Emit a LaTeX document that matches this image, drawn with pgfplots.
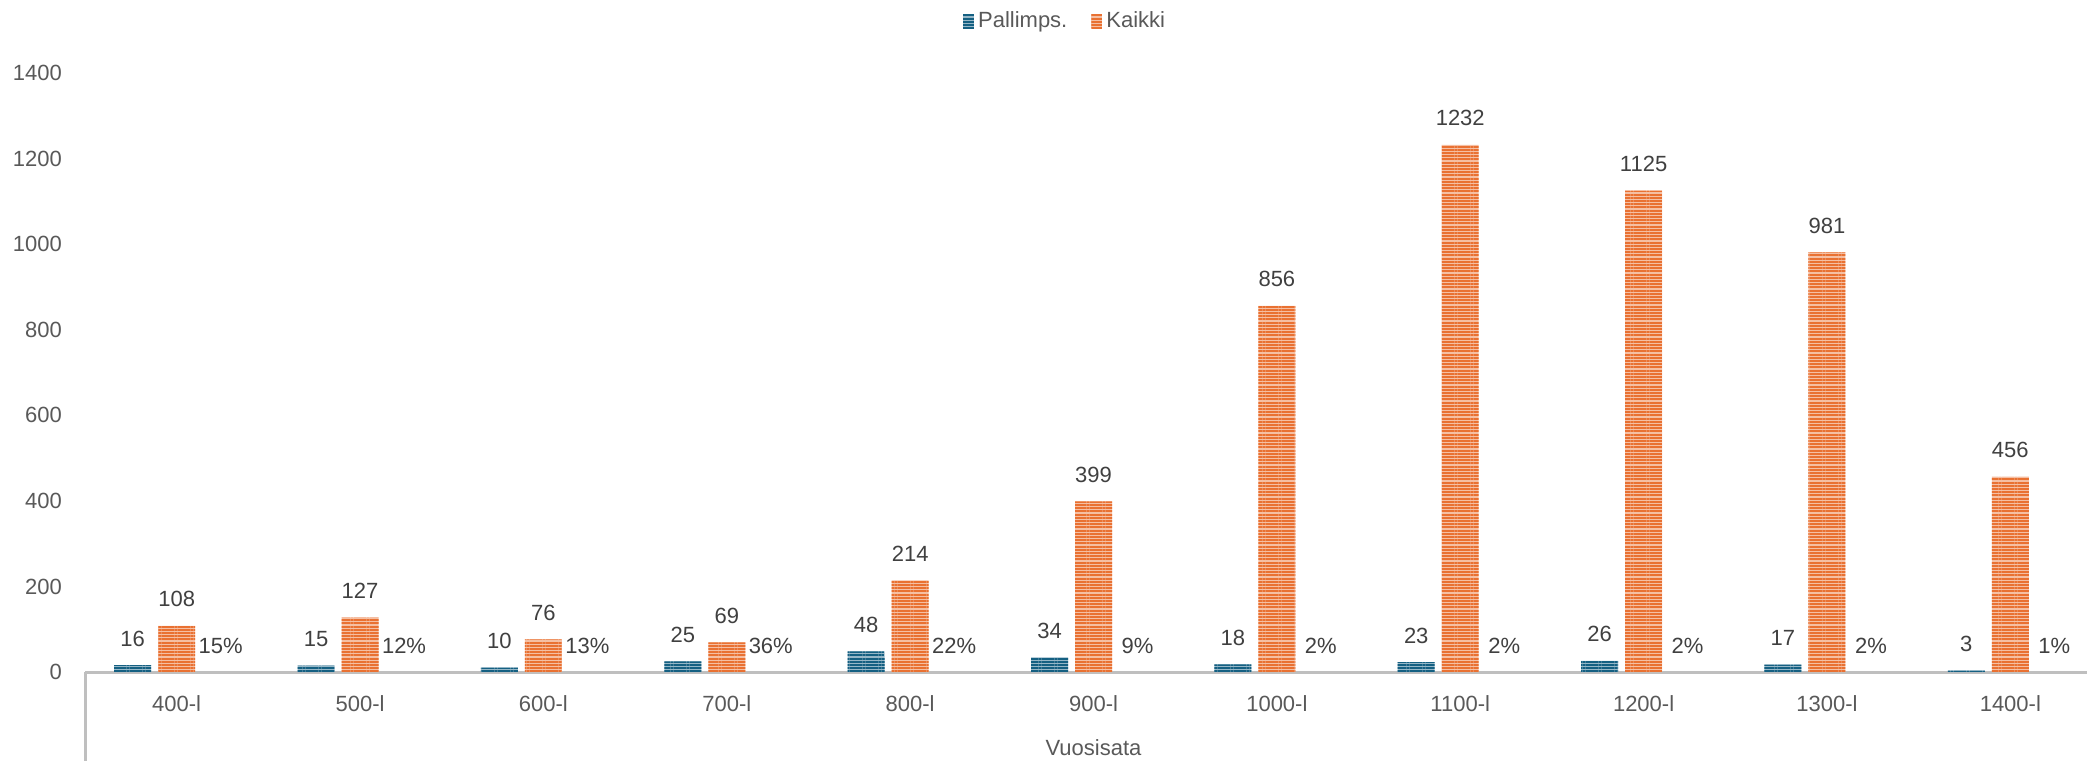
\documentclass[border=0pt]{standalone}
\usepackage{pgfplots}
\pgfplotsset{compat=1.18}
\usepackage{pgfplotstable}
\usetikzlibrary{patterns.meta}
\usepackage{fontspec}
\setmainfont{Liberation Sans}

\definecolor{pblue}{HTML}{156082}
\definecolor{korange}{HTML}{E97132}
\definecolor{lbl}{HTML}{404040}
\definecolor{axtxt}{HTML}{595959}
\definecolor{axline}{HTML}{BFBFBF}

% x: century index, b: palimpsests, o: all manuscripts, p: share in percent
\pgfplotstableread{
x b o p
0 16 108 15
1 15 127 12
2 10 76 13
3 25 69 36
4 48 214 22
5 34 399 9
6 18 856 2
7 23 1232 2
8 26 1125 2
9 17 981 2
10 3 456 1
}\data

\tikzset{
  striped/.style={fill=#1!45!white,
    postaction={pattern={Lines[angle=0,distance=1.6pt,line width=1pt]}, pattern color=#1}},
  lblfont/.style={font=\fontsize{11}{13}\selectfont}
}

\begin{document}
\begin{tikzpicture}
\begin{axis}[
  name=ax,
  width=1008.5pt, height=299.5pt, scale only axis,
  xmin=-0.5, xmax=10.5, ymin=0, ymax=1400,
  ytick={0,200,...,1400},
  xtick={0,...,10},
  xticklabels={400-l,500-l,600-l,700-l,800-l,900-l,1000-l,1100-l,1200-l,1300-l,1400-l},
  ybar, bar width=18.5pt,
  axis x line*=bottom, axis y line*=left,
  x axis line style={draw=axline, line width=1.5pt},
  y axis line style={draw=none},
  major tick length=0pt,
  tick label style={lblfont, text=axtxt},
  yticklabel style={/pgf/number format/1000 sep={}, /pgf/number format/assume math mode=true, xshift=-8pt},
  xticklabel style={yshift=-8.4pt},
  xlabel={Vuosisata},
  xlabel style={lblfont, text=axtxt, at={(axis description cs:0.5,0)}, anchor=center, yshift=-38pt},
  clip=false,
  legend style={draw=none, fill=none, at={(0.4864,1.0868)}, anchor=center,
    font=\fontsize{11}{13}\selectfont, text=axtxt,
    /tikz/every even column/.append style={column sep=10pt}},
  legend columns=2,
  legend image code/.code={\fill[#1,draw=none] (0pt,-3.5pt) rectangle (5.5pt,3.5pt);},
  nodes near coords style={lblfont, text=lbl, anchor=base, inner sep=0pt, yshift=9.5pt},
]
\addplot[striped=pblue, draw=none, bar shift=-22pt,
  nodes near coords, point meta=explicit symbolic]
  table[x=x, y=b, meta=b] {\data};
\addlegendentry{Pallimps.}
\addplot[striped=korange, draw=none, bar shift=0pt,
  nodes near coords, point meta=explicit symbolic]
  table[x=x, y=o, meta=o] {\data};
\addlegendentry{Kaikki}
\addplot[draw=none, fill=none, bar shift=22pt, forget plot,
  nodes near coords={\pgfplotspointmeta\%}, point meta=explicit symbolic]
  table[x=x, y expr=0, meta=p] {\data};
\end{axis}
\draw[axline, line width=1.5pt] (ax.south west) -- ++(0,-44.5pt);
\pgfresetboundingbox
\path[use as bounding box] ([xshift=-42.5pt,yshift=-44.5pt]ax.south west) rectangle ([xshift=-7.5pt,yshift=36.5pt]ax.north east);
\end{tikzpicture}
\end{document}
